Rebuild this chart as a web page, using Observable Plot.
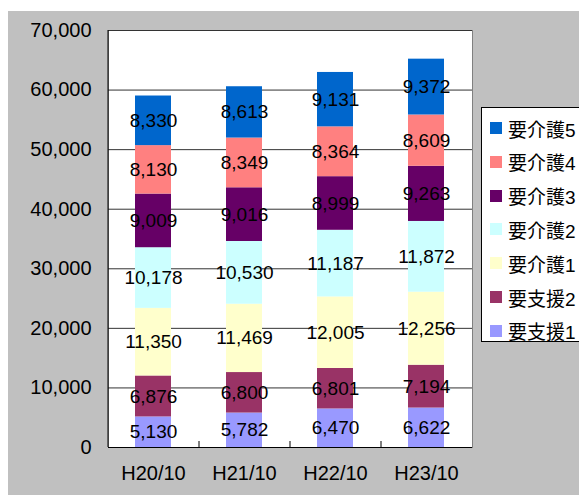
<!DOCTYPE html>
<html>
<head>
<meta charset="utf-8">
<script src="https://cdn.jsdelivr.net/npm/d3@7"></script>
<script src="https://cdn.jsdelivr.net/npm/@observablehq/plot@0.6"></script>
<style>
  html, body { margin: 0; padding: 0; background: #fff; }
  #wrap { position: relative; width: 579px; height: 495px; overflow: hidden; font-family: "Liberation Sans", Arial, "Noto Sans CJK JP", sans-serif; }
  #bg { position: absolute; left: 8px; top: 11px; width: 571px; height: 484px; background: #c0c0c0; }
  #chart { position: absolute; left: 0; top: 0; }
  #legend { position: absolute; left: 481px; top: 107px; width: 110px; height: 235px; background: #fff; border: 1px solid #000; box-sizing: border-box; }
  .item { position: absolute; left: 8px; height: 20px; display: flex; align-items: center; font-size: 19px; color: #000; font-family: "Liberation Sans", "Noto Sans CJK JP", sans-serif; white-space: nowrap; }
  .sw { width: 12px; height: 12px; margin-right: 6px; flex: none; }
</style>
</head>
<body>
<div id="wrap">
  <div id="bg"></div>
  <div id="chart"></div>
  <div id="legend"></div>
</div>
<script>
const categories = ["H20/10", "H21/10", "H22/10", "H23/10"];
// bottom to top stacking order
const series = ["要支援1", "要支援2", "要介護1", "要介護2", "要介護3", "要介護4", "要介護5"];
const colors = ["#9999FF", "#993366", "#FFFFCC", "#CCFFFF", "#660066", "#FF8080", "#0066CC"];
const values = {
  "要支援1": [5130, 5782, 6470, 6622],
  "要支援2": [6876, 6800, 6801, 7194],
  "要介護1": [11350, 11469, 12005, 12256],
  "要介護2": [10178, 10530, 11187, 11872],
  "要介護3": [9009, 9016, 8999, 9263],
  "要介護4": [8130, 8349, 8364, 8609],
  "要介護5": [8330, 8613, 9131, 9372]
};
const yTicks = [0, 10000, 20000, 30000, 40000, 50000, 60000, 70000];

const data = [];
series.forEach(s => categories.forEach((c, i) => data.push({cat: c, series: s, value: values[s][i]})));

const W = 579, H = 495, ml = 108, mr = 107, mt = 30, mb = 48;
const step = (W - ml - mr) / categories.length;
const fmt = d3.format(",");

const chart = Plot.plot({
  width: W, height: H,
  marginLeft: ml, marginRight: mr, marginTop: mt, marginBottom: mb,
  style: {background: "transparent", fontFamily: "'Liberation Sans', Arial, sans-serif", fontSize: "19px", color: "#000", overflow: "visible"},
  x: {domain: categories, paddingInner: 0.6, paddingOuter: 0.3, label: null},
  y: {domain: [0, 70000], label: null},
  color: {domain: series, range: colors},
  marks: [
    Plot.frame({fill: "white", stroke: "#808080"}),
    Plot.gridY(yTicks, {stroke: "#333", strokeOpacity: 1}),
    Plot.axisY(yTicks, {tickSize: 0, tickPadding: 17, tickFormat: fmt, fontSize: 20, fill: "#000"}),
    Plot.axisX({tickSize: 0, tickPadding: 18, fontSize: 20, fill: "#000"}),
    Plot.barY(data, Plot.stackY({x: "cat", y: "value", fill: "series", order: series})),
    Plot.ruleY([0], {stroke: "#000"}),
    Plot.ruleX([categories[0]], {dx: -step / 2, stroke: "#000"}),
    Plot.ruleX(categories.slice(1), {y1: 0, y2: 0, insetTop: -6, dx: -step / 2, stroke: "#000"}),
    Plot.text(data, Plot.stackY({x: "cat", y: "value", z: "series", order: series, text: d => fmt(d.value), fontSize: 19, fill: "#000"}))
  ]
});
document.getElementById("chart").appendChild(chart);

const legend = document.getElementById("legend");
const legendOrder = series.slice().reverse();
const legendColors = colors.slice().reverse();
legendOrder.forEach((s, i) => {
  const div = document.createElement("div");
  div.className = "item";
  div.style.top = (10 + i * 33.8) + "px";
  div.innerHTML = `<span class="sw" style="background:${legendColors[i]}"></span><span>${s}</span>`;
  legend.appendChild(div);
});
</script>
</body>
</html>
